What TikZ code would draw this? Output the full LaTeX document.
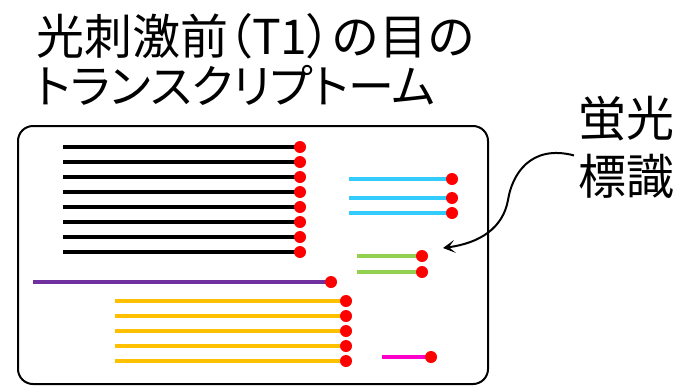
\documentclass[tikz,border=0pt]{standalone}
\usepackage{fontspec}
\setmainfont{Noto Sans CJK JP}
\usetikzlibrary{arrows.meta}
\definecolor{cyanline}{HTML}{33CCFF}
\definecolor{greenline}{HTML}{92D050}
\definecolor{purpleline}{HTML}{7030A0}
\definecolor{orangeline}{HTML}{FFC000}
\definecolor{magentaline}{HTML}{FF00CC}
\definecolor{dotred}{HTML}{FF0000}
\tikzset{
  titletext/.style={inner sep=0pt, font=\fontsize{48}{50}\selectfont},
  titletexttwo/.style={inner sep=0pt, font=\fontsize{46}{50}\selectfont},
  labeltext/.style={inner sep=0pt, align=left, font=\fontsize{48}{58}\selectfont},
  tbox/.style={draw=black, line width=2pt, rounded corners=15pt, inner sep=0pt},
  reddot/.style={circle, fill=dotred, draw=none, minimum size=12pt, inner sep=0pt},
  strand/.style={line width=4pt},
  pointer/.style={line width=2pt, -{Stealth[length=12pt,width=13pt,inset=6pt]}},
}
\begin{document}
\begin{tikzpicture}[x=1pt,y=-1pt]
\useasboundingbox (0,0) rectangle (687,391);
\node[titletext, anchor=base west] (t1) at (36,54) {光刺激前{\addfontfeature{RawFeature=+palt}（T1）}の目の};
\node[titletexttwo, anchor=base west] (t2) at (35,103) {\addfontfeature{RawFeature=+palt}トランスクリプトーム};
\node[tbox, anchor=north west, minimum width=470pt, minimum height=258pt] (box) at (17,125) {};
% black
\foreach \y [count=\i] in {147,162,...,252} {
  \coordinate (ks\i) at (63,\y);
  \coordinate (ke\i) at (300,\y);
  \draw[strand, black] (ks\i) -- (ke\i);
  \node[reddot] (kd\i) at (ke\i) {};
}
% cyan
\foreach \y [count=\i] in {179,198,213} {
  \coordinate (cs\i) at (349,\y);
  \coordinate (ce\i) at (452,\y);
  \draw[strand, cyanline] (cs\i) -- (ce\i);
  \node[reddot] (cd\i) at (ce\i) {};
}
% green
\foreach \y [count=\i] in {256,272} {
  \coordinate (gs\i) at (357,\y);
  \coordinate (ge\i) at (422,\y);
  \draw[strand, greenline] (gs\i) -- (ge\i);
  \node[reddot] (gd\i) at (ge\i) {};
}
% purple
\coordinate (ps) at (33,282);
\coordinate (pe) at (331,282);
\draw[strand, purpleline] (ps) -- (pe);
\node[reddot] (pd) at (pe) {};
% orange
\foreach \y [count=\i] in {301,316,331,346,361} {
  \coordinate (os\i) at (115,\y);
  \coordinate (oe\i) at (346,\y);
  \draw[strand, orangeline] (os\i) -- (oe\i);
  \node[reddot] (od\i) at (oe\i) {};
}
% magenta
\coordinate (ms) at (382,357);
\coordinate (me) at (431,357);
\draw[strand, magentaline] (ms) -- (me);
\node[reddot] (md) at (me) {};
% label and arrow
\node[labeltext, anchor=north west] (fl) at (578,96) {蛍光\\標識};
\coordinate (tip) at (443,248);
\draw[pointer] ([xshift=-4pt,yshift=-8pt]fl.west) .. controls (530,144) and (512,175) .. (508,200)
  .. controls (503,228) and (480,243) .. (tip);
\end{tikzpicture}
\end{document}
